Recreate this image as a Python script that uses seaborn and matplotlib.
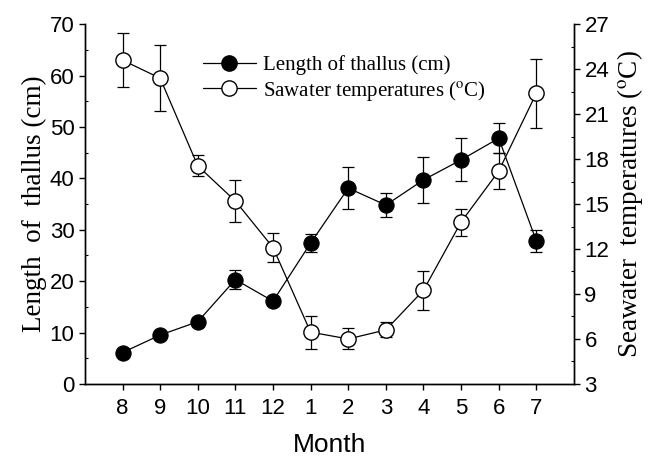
import matplotlib
matplotlib.use("Agg")
import matplotlib.pyplot as plt
import seaborn as sns
import pandas as pd
import numpy as np
from matplotlib.lines import Line2D
from matplotlib.ticker import MultipleLocator

months = ["8", "9", "10", "11", "12", "1", "2", "3", "4", "5", "6", "7"]
length = [6.1, 9.5, 12.1, 20.3, 16.1, 27.4, 38.1, 34.8, 39.7, 43.6, 47.8, 27.8]
length_err = [0, 0, 0, 1.9, 0, 1.8, 4.1, 2.3, 4.4, 4.2, 2.9, 2.1]
temp = [24.6, 23.4, 17.55, 15.2, 12.1, 6.45, 6.0, 6.6, 9.25, 13.8, 17.2, 22.4]
temp_err = [1.8, 2.2, 0.7, 1.4, 1.0, 1.1, 0.7, 0.5, 1.3, 0.9, 1.2, 2.3]

sns.set_style("ticks")
plt.rcParams["font.family"] = ["Liberation Sans", "DejaVu Sans"]
plt.rcParams["mathtext.fontset"] = "stix"
for k in ["text.color", "axes.labelcolor", "xtick.color", "ytick.color", "axes.edgecolor"]:
    plt.rcParams[k] = "black"

pos = np.arange(1, len(months) + 1)
df = pd.DataFrame({"pos": pos, "length": length, "temp": temp})

fig = plt.figure(figsize=(6.53, 4.57), dpi=100)
ax = fig.add_axes([0.130, 0.160, 0.749, 0.787])
ax2 = ax.twinx()

lw = 0.9
ms = 11
ax.errorbar(pos, length, yerr=length_err, fmt="none", ecolor="black",
            elinewidth=lw, capsize=4, capthick=lw, zorder=2)
sns.lineplot(data=df, x="pos", y="length", ax=ax, color="black", lw=lw,
             marker="o", markersize=ms, markerfacecolor="black",
             markeredgecolor="black", zorder=3)

ax2.errorbar(pos, temp, yerr=temp_err, fmt="none", ecolor="black",
             elinewidth=lw, capsize=4, capthick=lw, zorder=2)
sns.lineplot(data=df, x="pos", y="temp", ax=ax2, color="black", lw=lw,
             marker="o", markersize=ms, markerfacecolor="white",
             markeredgecolor="black", markeredgewidth=1.0, zorder=3)

ax.set_xlim(0, 13)
ax.set_ylim(0, 70)
ax2.set_ylim(3, 27)

ax.set_xticks(pos)
ax.set_xticklabels(months)
ax.set_yticks(np.arange(0, 71, 10))
ax.yaxis.set_minor_locator(MultipleLocator(5))
ax2.set_yticks(np.arange(3, 28, 3))
ax2.yaxis.set_minor_locator(MultipleLocator(1.5))

for a in (ax, ax2):
    a.spines["top"].set_visible(False)
    for s in a.spines.values():
        s.set_linewidth(1.0)
    a.tick_params(axis="both", which="major", labelsize=16, length=4.5, width=1.0,
                  direction="out", colors="black", pad=3)
    a.tick_params(axis="y", which="minor", length=2.5, width=0.8, direction="in")
ax.tick_params(axis="x", which="major", pad=6)

ax.set_xlabel("Month", fontsize=19, family=["Liberation Sans"], labelpad=10)
ax.set_ylabel("Length  of  thallus (cm)", fontsize=19.5, family=["Liberation Serif"], labelpad=2)
ax2.set_ylabel(r"Seawater  temperatures ($^{\mathrm{o}}$C)", fontsize=19.5,
               family=["Liberation Serif"], labelpad=4)

h1 = Line2D([], [], color="black", lw=lw, marker="o", markersize=ms,
            markerfacecolor="black", markeredgecolor="black")
h2 = Line2D([], [], color="black", lw=lw, marker="o", markersize=ms,
            markerfacecolor="white", markeredgecolor="black")
leg = ax2.legend([h1, h2], ["Length of thallus (cm)", r"Sawater temperatures ($^{\mathrm{o}}$C)"],
                 loc="upper left", bbox_to_anchor=(0.241, 0.913), frameon=False,
                 borderpad=0, borderaxespad=0,
                 handlelength=2.55, handletextpad=0.35, labelspacing=0.15,
                 prop={"family": "Liberation Serif", "size": 15})

fig.savefig("out.png", dpi=100)
